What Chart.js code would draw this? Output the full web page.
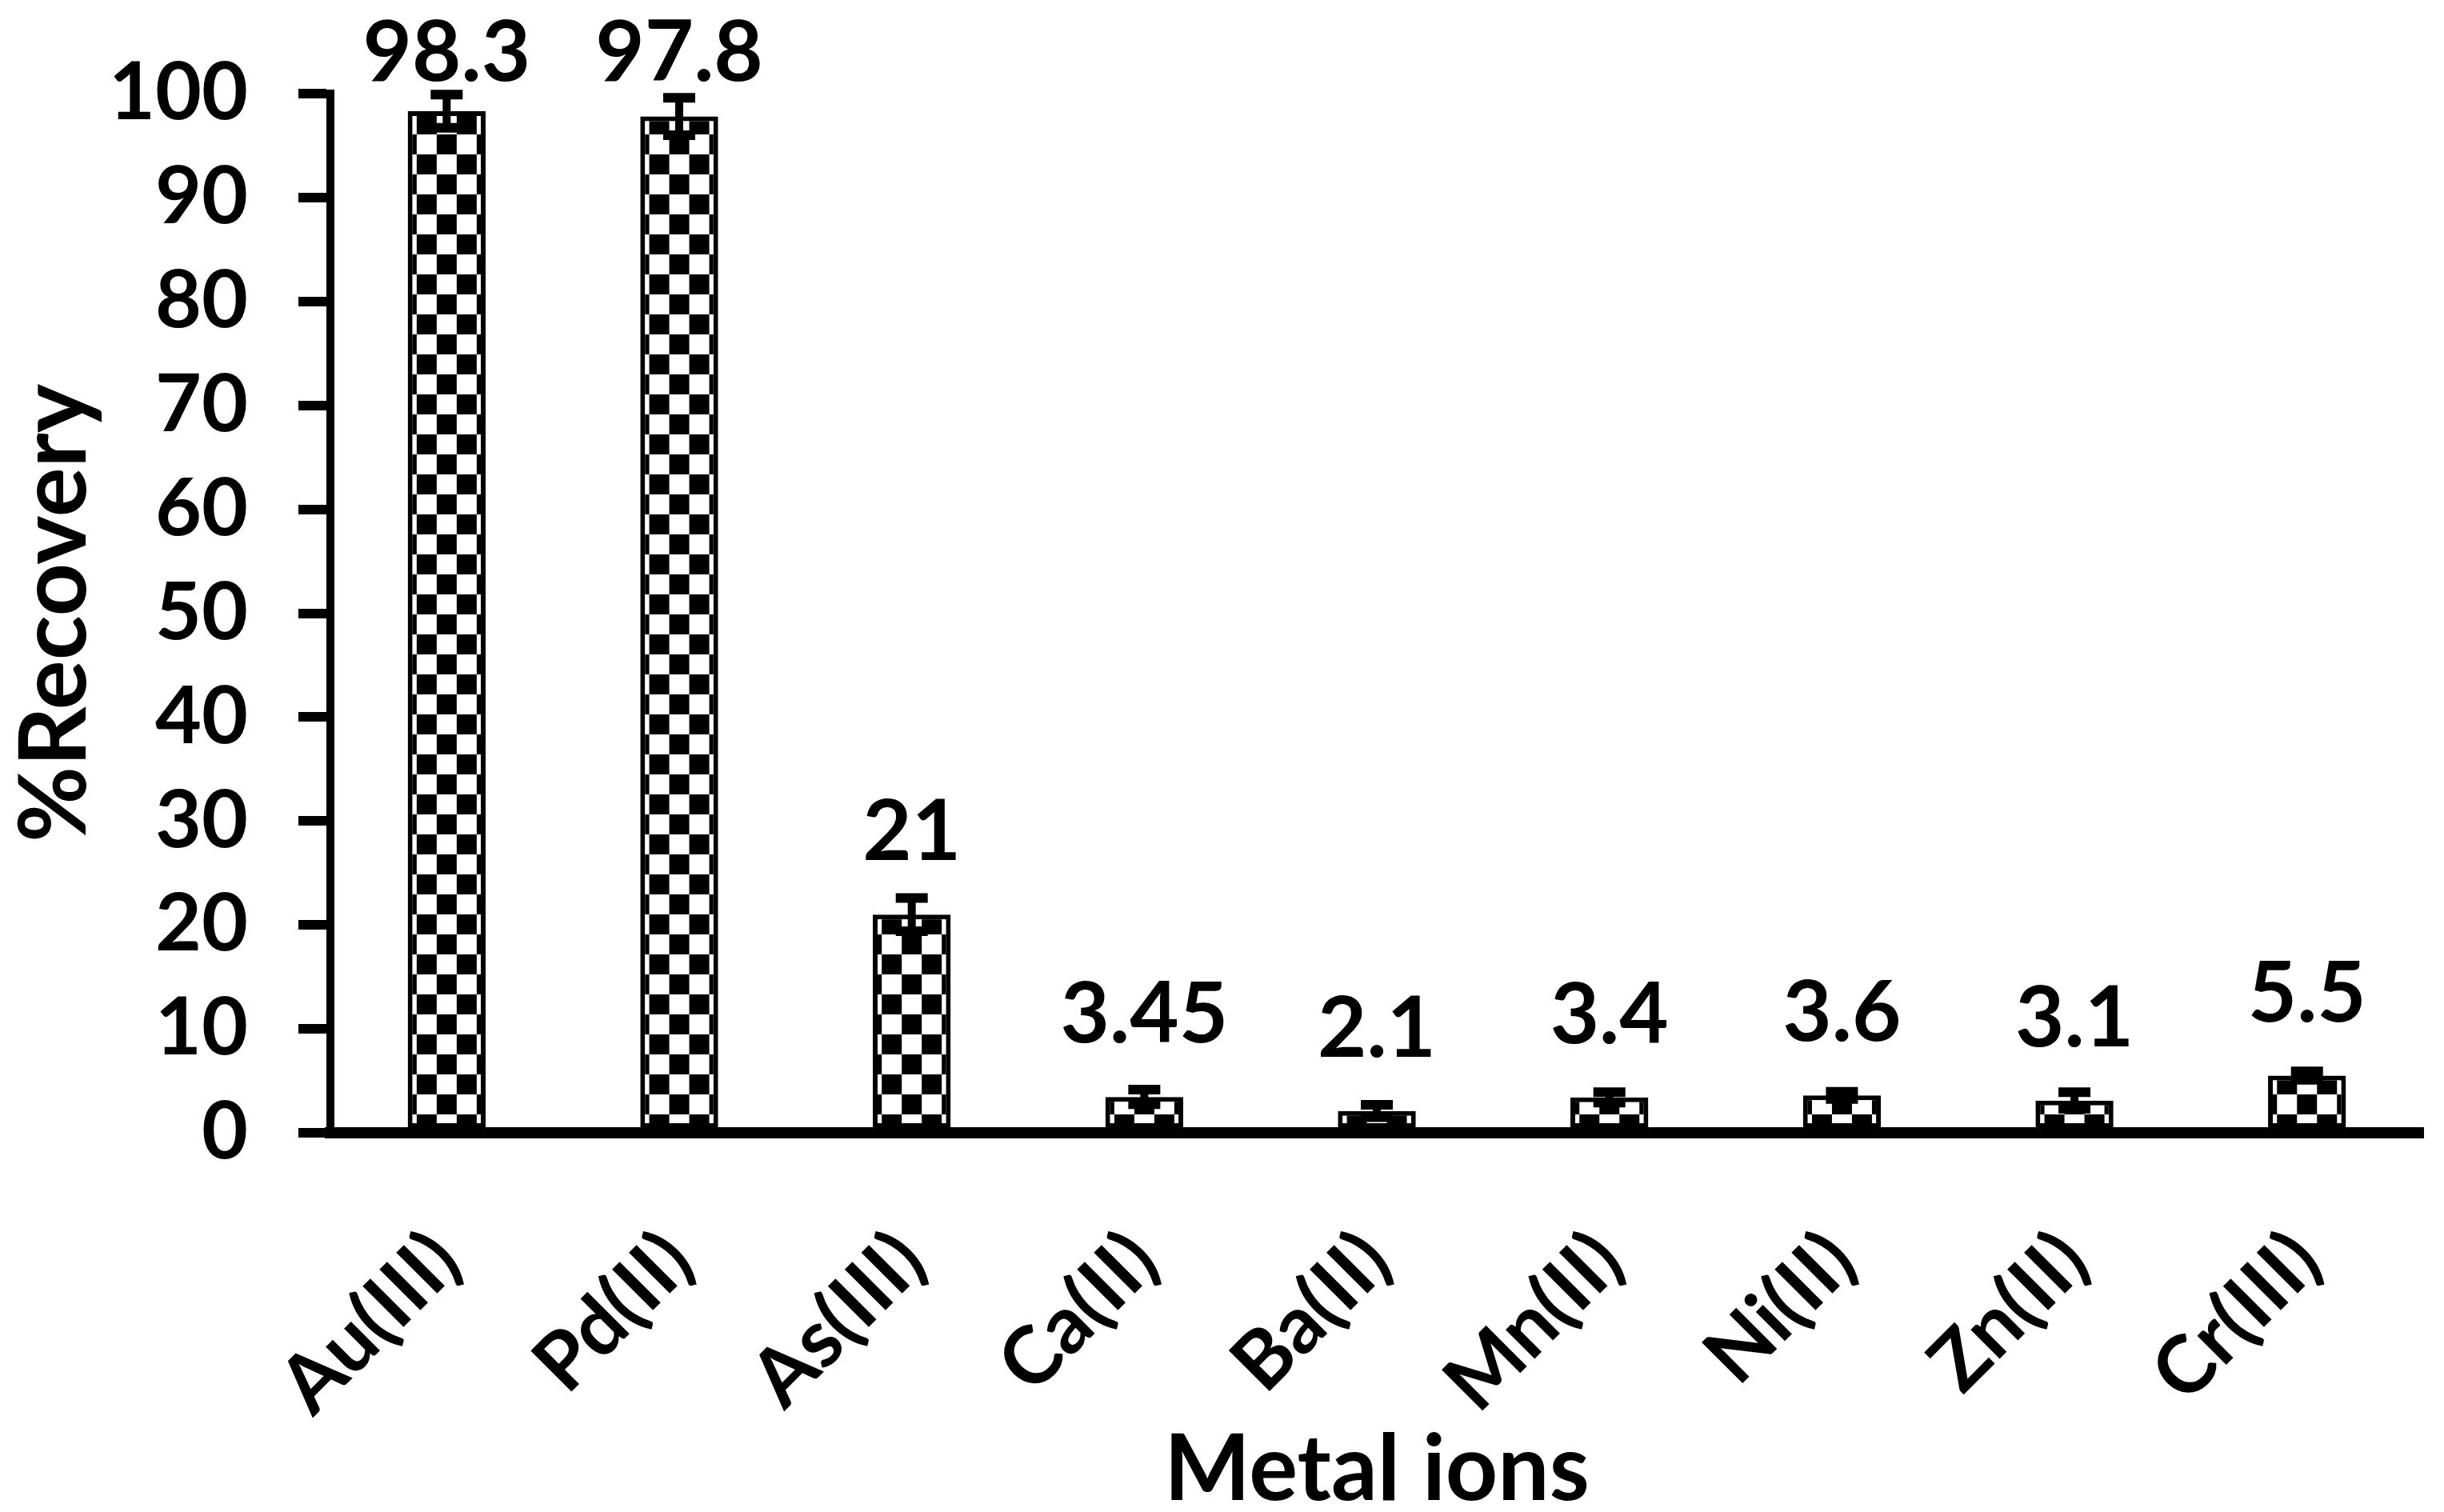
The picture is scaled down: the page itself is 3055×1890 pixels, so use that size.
<!DOCTYPE html>
<html>
<head>
<meta charset="utf-8">
<title>%Recovery of metal ions</title>
<script src="https://cdn.jsdelivr.net/npm/chart.js@4.4.1/dist/chart.umd.min.js"></script>
<style>
  html, body { margin: 0; padding: 0; background: #fff; }
  #wrap { width: 3055px; height: 1890px; }
</style>
</head>
<body>
<div id="wrap"><canvas id="recoveryChart" width="3055" height="1890"></canvas></div>
<script>
// Metal ions and their % recovery
const metals = ['Au(III)', 'Pd(II)', 'As(III)', 'Ca(II)', 'Ba(II)', 'Mn(II)', 'Ni(II)', 'Zn(II)', 'Cr(III)'];
const recovery = [98.3, 97.8, 21, 3.45, 2.1, 3.4, 3.6, 3.1, 5.5];
const recoveryErr = [1.6, 1.8, 1.6, 0.7, 0.6, 0.5, 0.35, 0.8, 0.4];
const recoveryLabels = ['98.3', '97.8', '21', '3.45', '2.1', '3.4', '3.6', '3.1', '5.5'];
const yTicks = [0, 10, 20, 30, 40, 50, 60, 70, 80, 90, 100];

const FONT = 'Lato';
const bold = (size, lh) => ({ family: FONT, weight: 'bold', size: size, lineHeight: lh || 1 });

// black/white checkerboard, centred on each bar
function checker(ctx, cx, zeroY) {
  const c = document.createElement('canvas');
  c.width = 50;
  c.height = 50;
  const g = c.getContext('2d');
  g.fillStyle = '#fff';
  g.fillRect(0, 0, 50, 50);
  g.fillStyle = '#000';
  g.fillRect(0, 0, 25, 25);
  g.fillRect(25, 25, 25, 25);
  const p = ctx.createPattern(c, 'repeat');
  p.setTransform(new DOMMatrix([1, 0, 0, 1, cx - 12.5, zeroY - 48]));
  return p;
}

// error bars + value labels on top of each bar
const errorBarsAndLabels = {
  id: 'errorBarsAndLabels',
  afterDatasetsDraw(chart) {
    const ctx = chart.ctx;
    const y = chart.scales.y;
    const meta = chart.getDatasetMeta(0);
    ctx.save();
    ctx.strokeStyle = '#000';
    ctx.fillStyle = '#000';
    meta.data.forEach((bar, i) => {
      const hi = y.getPixelForValue(recovery[i] + recoveryErr[i]);
      const lo = y.getPixelForValue(recovery[i] - recoveryErr[i]);
      ctx.lineWidth = 10;
      ctx.beginPath();
      ctx.moveTo(bar.x, hi);
      ctx.lineTo(bar.x, lo);
      ctx.stroke();
      ctx.lineWidth = 12;
      ctx.beginPath();
      ctx.moveTo(bar.x - 20, hi);
      ctx.lineTo(bar.x + 20, hi);
      ctx.moveTo(bar.x - 20, lo);
      ctx.lineTo(bar.x + 20, lo);
      ctx.stroke();

      ctx.font = 'bold 106px ' + FONT;
      ctx.textAlign = 'center';
      ctx.textBaseline = 'alphabetic';
      ctx.fillText(recoveryLabels[i], bar.x, Math.max(bar.y - 68, 101));
    });
    ctx.restore();
  }
};

const ctx = document.getElementById('recoveryChart').getContext('2d');

const chart = new Chart(ctx, {
  type: 'bar',
  data: {
    labels: metals,
    datasets: [{
      label: '%Recovery',
      data: recovery,
      backgroundColor: function(c) {
        const ch = c.chart;
        if (!ch.scales.x || !ch.scales.y || c.dataIndex === undefined) return '#000';
        return checker(ch.ctx, ch.scales.x.getPixelForValue(c.dataIndex), ch.scales.y.getPixelForValue(0));
      },
      borderColor: '#000',
      borderWidth: 6,
      borderSkipped: false,
      barPercentage: 0.335,
      categoryPercentage: 1
    }]
  },
  options: {
    responsive: false,
    animation: false,
    devicePixelRatio: 1,
    events: [],
    layout: { padding: { top: 117, right: 10, bottom: 0, left: 0 } },
    plugins: {
      legend: { display: false },
      tooltip: { enabled: false }
    },
    scales: {
      x: {
        afterFit: s => { s.height = 474; },
        border: { display: true, color: '#000', width: 14 },
        grid: { display: false },
        ticks: {
          color: '#000',
          autoSkip: false,
          minRotation: 45,
          maxRotation: 45,
          padding: 100,
          font: bold(100)
        },
        title: {
          display: true,
          text: 'Metal ions',
          color: '#000',
          font: bold(114, 0.8),
          padding: { top: 0, bottom: 6 }
        }
      },
      y: {
        min: 0,
        max: 100,
        afterFit: s => { s.width = 413; },
        afterBuildTicks: s => { s.ticks = yTicks.map(v => ({ value: v })); },
        border: { display: true, color: '#000', width: 10 },
        grid: {
          display: true,
          drawOnChartArea: false,
          drawTicks: true,
          tickLength: 40,
          tickWidth: 12,
          tickColor: '#000',
          color: '#000',
          lineWidth: 12
        },
        ticks: {
          color: '#000',
          padding: 63,
          font: bold(100)
        },
        title: {
          display: true,
          text: '%Recovery',
          color: '#000',
          font: bold(116),
          padding: { top: 12, bottom: 0 }
        }
      }
    }
  },
  plugins: [errorBarsAndLabels]
});
</script>
</body>
</html>
